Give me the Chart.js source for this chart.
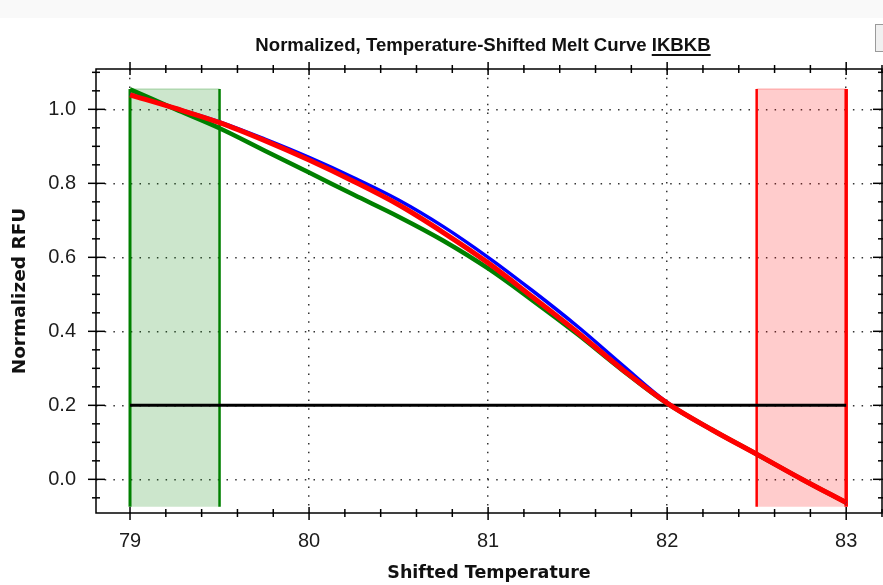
<!DOCTYPE html>
<html>
<head>
<meta charset="utf-8">
<script src="https://cdn.jsdelivr.net/npm/chart.js@4.4.0/dist/chart.umd.min.js"></script>
<style>
  html, body { margin: 0; padding: 0; background: #fff; }
  #wrap { position: relative; width: 883px; height: 585px; overflow: hidden; }
  #topband { position: absolute; left: 0; top: 0; width: 883px; height: 18px; background: #f9f9f9; }
  #btn { position: absolute; left: 875px; top: 24px; width: 14px; height: 26px; border: 1px solid #9a9a9a; background: #f0f0f0; }
  #title { position: absolute; left: 83px; top: 35px; width: 800px; text-align: center;
           font: bold 18.6px "Liberation Sans", Arial, sans-serif; line-height: 20px; color: #111; }
  #title u { text-decoration-thickness: 1.5px; text-underline-offset: 3px; }
  canvas { position: absolute; left: 0; top: 0; }
</style>
</head>
<body>
<div id="wrap">
  <div id="topband"></div>
  <div id="btn"></div>
  <canvas id="melt" width="883" height="585"></canvas>
  <div id="title">Normalized, Temperature-Shifted Melt Curve <u>IKBKB</u></div>
</div>
<script>
const temps     = [79, 79.25, 79.5, 79.75, 80, 80.25, 80.5, 80.75, 81, 81.25, 81.5, 81.75, 82, 82.25, 82.5, 82.75, 83];
const rfuBlue   = [1.040, 1.004, 0.966, 0.920, 0.870, 0.815, 0.755, 0.683, 0.600, 0.509, 0.413, 0.309, 0.208, 0.134, 0.068, 0.001, -0.063];
const rfuRed    = [1.039, 1.003, 0.964, 0.916, 0.863, 0.805, 0.742, 0.667, 0.585, 0.492, 0.397, 0.297, 0.206, 0.134, 0.068, 0.001, -0.063];
const rfuGreen  = [1.054, 1.001, 0.949, 0.889, 0.829, 0.769, 0.710, 0.645, 0.570, 0.483, 0.392, 0.295, 0.205, 0.134, 0.068, 0.001, -0.063];

const xTickValues = [79, 80, 81, 82, 83];
const yTickValues = [0, 0.2, 0.4, 0.6, 0.8, 1.0];
const xMinorStep = 0.2;
const yMinorStep = 0.05;
const xRange = [78.81, 83.2];
const yRange = [-0.091, 1.109];

// fenêtres de normalisation et seuil
const greenWindow = [79, 79.5];
const redWindow = [82.5, 83];
const windowTop = 1.055;
const windowBottom = -0.074;
const thresholdRFU = 0.2;

const pts = (xs, ys) => xs.map((x, i) => ({ x: x, y: ys[i] }));
const vline = (x) => [{ x: x, y: windowBottom }, { x: x, y: windowTop }];

function curve(label, ys, color, width, order) {
  return {
    label: label, data: pts(temps, ys), borderColor: color, borderWidth: width,
    pointRadius: 0, tension: 0.35, fill: false, order: order
  };
}
function edge(x, color, width) {
  return { data: vline(x), borderColor: color, borderWidth: width, pointRadius: 0, fill: false, order: 5 };
}
function band(win, line, fillColor) {
  return {
    data: [{ x: win[0], y: windowTop }, { x: win[1], y: windowTop }],
    borderColor: line, borderWidth: 1, pointRadius: 0,
    backgroundColor: fillColor, fill: { value: windowBottom }, order: 7
  };
}

// cadre + graduations sur les 4 côtés
const framePlugin = {
  id: 'frame',
  afterDraw(chart) {
    const { ctx, chartArea: a, scales: { x, y } } = chart;
    ctx.save();
    ctx.strokeStyle = '#000';
    ctx.lineWidth = 1.5;
    ctx.strokeRect(a.left, a.top, a.right - a.left, a.bottom - a.top);
    const seg = (x1, y1, x2, y2) => { ctx.beginPath(); ctx.moveTo(x1, y1); ctx.lineTo(x2, y2); ctx.stroke(); };
    for (let i = Math.ceil(x.min / xMinorStep); i <= Math.floor(x.max / xMinorStep); i++) {
      const v = i * xMinorStep;
      const major = Math.abs(v - Math.round(v)) < 1e-6;
      const px = x.getPixelForValue(v);
      const out = major ? 7 : 4, inn = major ? 6 : 4;
      seg(px, a.bottom - inn, px, a.bottom + out);
      seg(px, a.top - out, px, a.top + inn);
    }
    for (let i = Math.ceil(y.min / yMinorStep); i <= Math.floor(y.max / yMinorStep); i++) {
      const v = i * yMinorStep;
      const major = Math.abs(v / 0.2 - Math.round(v / 0.2)) < 1e-6;
      const py = y.getPixelForValue(v);
      const out = major ? 8 : 4, inn = major ? 9 : 4;
      seg(a.left - out, py, a.left + inn, py);
      seg(a.right - inn, py, a.right + out, py);
    }
    ctx.restore();
  }
};

const tickFont = { family: '"Liberation Sans", Arial, sans-serif', size: 20 };

new Chart(document.getElementById('melt'), {
  type: 'line',
  data: {
    datasets: [
      curve('IKBKB rouge', rfuRed, '#ff0000', 5, 0),
      curve('IKBKB bleu', rfuBlue, '#0000ff', 3.5, 1),
      curve('IKBKB vert', rfuGreen, '#008000', 4.5, 2),
      { data: [{ x: temps[0], y: thresholdRFU }, { x: temps[temps.length - 1], y: thresholdRFU }],
        borderColor: '#000', borderWidth: 3, pointRadius: 0, fill: false, order: 3 },
      edge(greenWindow[0], '#008000', 3),
      edge(greenWindow[1], '#008000', 2.5),
      edge(redWindow[0], '#ff0000', 2.5),
      edge(redWindow[1], '#ff0000', 3.5),
      band(greenWindow, 'rgba(0,128,0,0.3)', 'rgba(0,128,0,0.2)'),
      band(redWindow, 'rgba(255,0,0,0.3)', 'rgba(255,0,0,0.2)')
    ]
  },
  options: {
    responsive: false,
    animation: false,
    layout: { padding: { top: 69, right: 1, left: 0, bottom: 0 } },
    plugins: { legend: { display: false }, tooltip: { enabled: false }, title: { display: false } },
    scales: {
      x: {
        type: 'linear', min: xRange[0], max: xRange[1],
        afterFit: (s) => { s.height = 72; },
        afterBuildTicks: (s) => { s.ticks = xTickValues.map(v => ({ value: v })); },
        grid: { color: '#333', lineWidth: 1.5, drawTicks: false },
        border: { display: false, dash: [1.5, 7.2] },
        ticks: { font: tickFont, color: '#1c1c1c', padding: 16, maxRotation: 0, callback: (v) => String(v) },
        title: { display: true, text: 'Shifted Temperature', color: '#111',
                 font: { family: '"DejaVu Sans", sans-serif', size: 17.5, weight: 'bold' }, padding: { top: 0, bottom: 1.5 } }
      },
      y: {
        type: 'linear', min: yRange[0], max: yRange[1],
        afterFit: (s) => { s.width = 96; },
        afterBuildTicks: (s) => { s.ticks = yTickValues.map(v => ({ value: v })); },
        grid: { color: '#333', lineWidth: 1.5, drawTicks: false },
        border: { display: false, dash: [1.5, 7.2] },
        ticks: { font: tickFont, color: '#1c1c1c', padding: 20, callback: (v) => v.toFixed(1) },
        title: { display: true, text: 'Normalized RFU', color: '#111',
                 font: { family: '"DejaVu Sans", sans-serif', size: 18.5, weight: 'bold' }, padding: { top: 9.4, bottom: 0 } }
      }
    }
  },
  plugins: [framePlugin]
});
</script>
</body>
</html>
